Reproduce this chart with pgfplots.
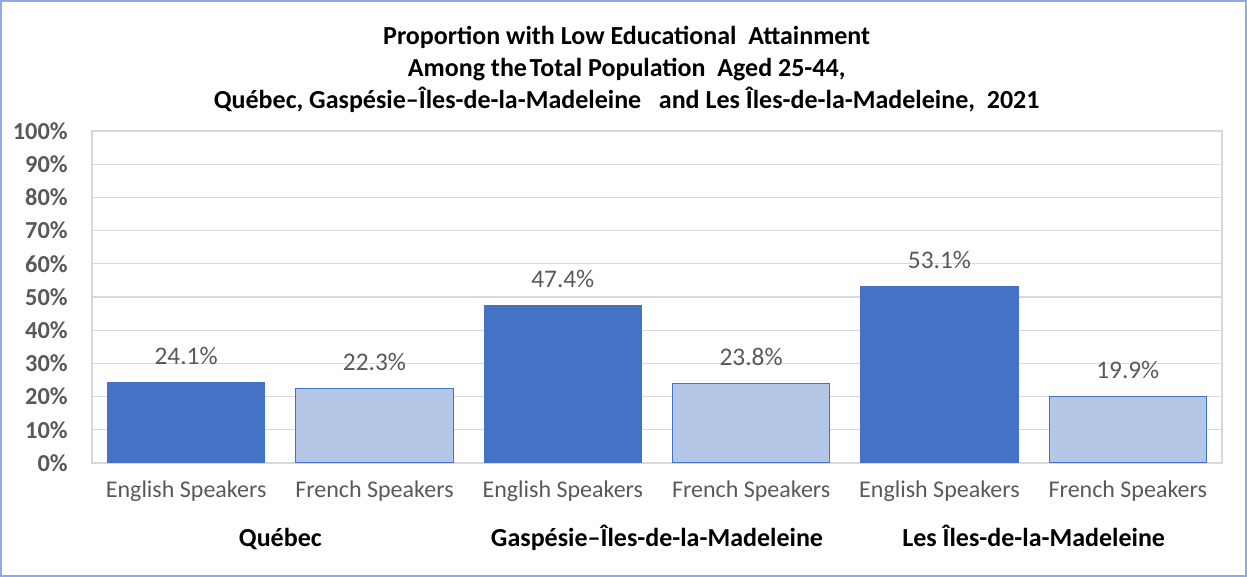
\documentclass[border=0pt]{standalone}
\usepackage{fontspec}
\setmainfont{Carlito}
\usepackage{pgfplots}
\pgfplotsset{compat=1.18}
\definecolor{darkbar}{HTML}{4472C4}
\definecolor{lightbar}{HTML}{B4C7E7}
\definecolor{gridgray}{HTML}{D9D9D9}
\definecolor{labelgray}{HTML}{595959}
\definecolor{framecol}{HTML}{8FAADC}

\begin{document}
\begin{tikzpicture}
\useasboundingbox (0,0) rectangle (935.25pt,432.75pt);
\draw[framecol, line width=1.2pt] (0.6pt,0.6pt) rectangle (934.65pt,432.15pt);
\node[font=\fontsize{19.5}{24}\selectfont\bfseries, align=center] at (470pt,380.5pt)
  {Proportion with Low Educational\ \ Attainment\\
   Among the\hspace{0.1em}Total Population\ \ Aged 25-44,\\
   Québec, Gaspésie–Îles-de-la-Madeleine\ \ \ and Les Îles-de-la-Madeleine,\ \ 2021};
\begin{axis}[
  at={(69pt,85.5pt)}, anchor=south west,
  scale only axis, width=847.5pt, height=249pt,
  xmin=-0.5, xmax=5.5, ymin=0, ymax=100,
  ybar, bar width=0.834,
  xtick={0,...,5},
  xticklabels={English Speakers, French Speakers, English Speakers, French Speakers, English Speakers, French Speakers},
  ytick={0,10,...,100},
  yticklabel={\pgfmathprintnumber{\tick}\%},
  /pgf/number format/assume math mode=true,
  major tick length=0pt,
  ymajorgrids, grid style={gridgray, line width=1pt},
  axis line style={gridgray, line width=1pt},
  xticklabel style={font=\fontsize{18}{20}\selectfont, text=labelgray, anchor=base, yshift=-25.9pt},
  yticklabel style={font=\fontsize{18.3}{20}\selectfont\bfseries, text=labelgray, anchor=east, inner sep=0pt, xshift=-18pt},
  nodes near coords={\pgfmathprintnumber[fixed,fixed zerofill,precision=1]{\pgfplotspointmeta}\%},
  nodes near coords style={font=\fontsize{19}{20}\selectfont, text=labelgray, anchor=base, yshift=13.5pt},
  clip=false,
]
\addplot[bar shift=0pt, fill=darkbar, draw=darkbar, line width=0.75pt]
  coordinates {(0,24.1) (2,47.4) (4,53.1)};
\addplot[bar shift=0pt, fill=lightbar, draw=darkbar, line width=0.75pt]
  coordinates {(1,22.3) (3,23.8) (5,19.9)};
\node[font=\fontsize{19.5}{20}\selectfont\bfseries, anchor=base, yshift=-63pt] at (axis cs:0.5,0) {Québec};
\node[font=\fontsize{19.5}{20}\selectfont\bfseries, anchor=base, yshift=-63pt] at (axis cs:2.5,0) {Gaspésie–Îles-de-la-Madeleine};
\node[font=\fontsize{19.5}{20}\selectfont\bfseries, anchor=base, yshift=-63pt] at (axis cs:4.5,0) {Les Îles-de-la-Madeleine};
\end{axis}
\end{tikzpicture}
\end{document}
